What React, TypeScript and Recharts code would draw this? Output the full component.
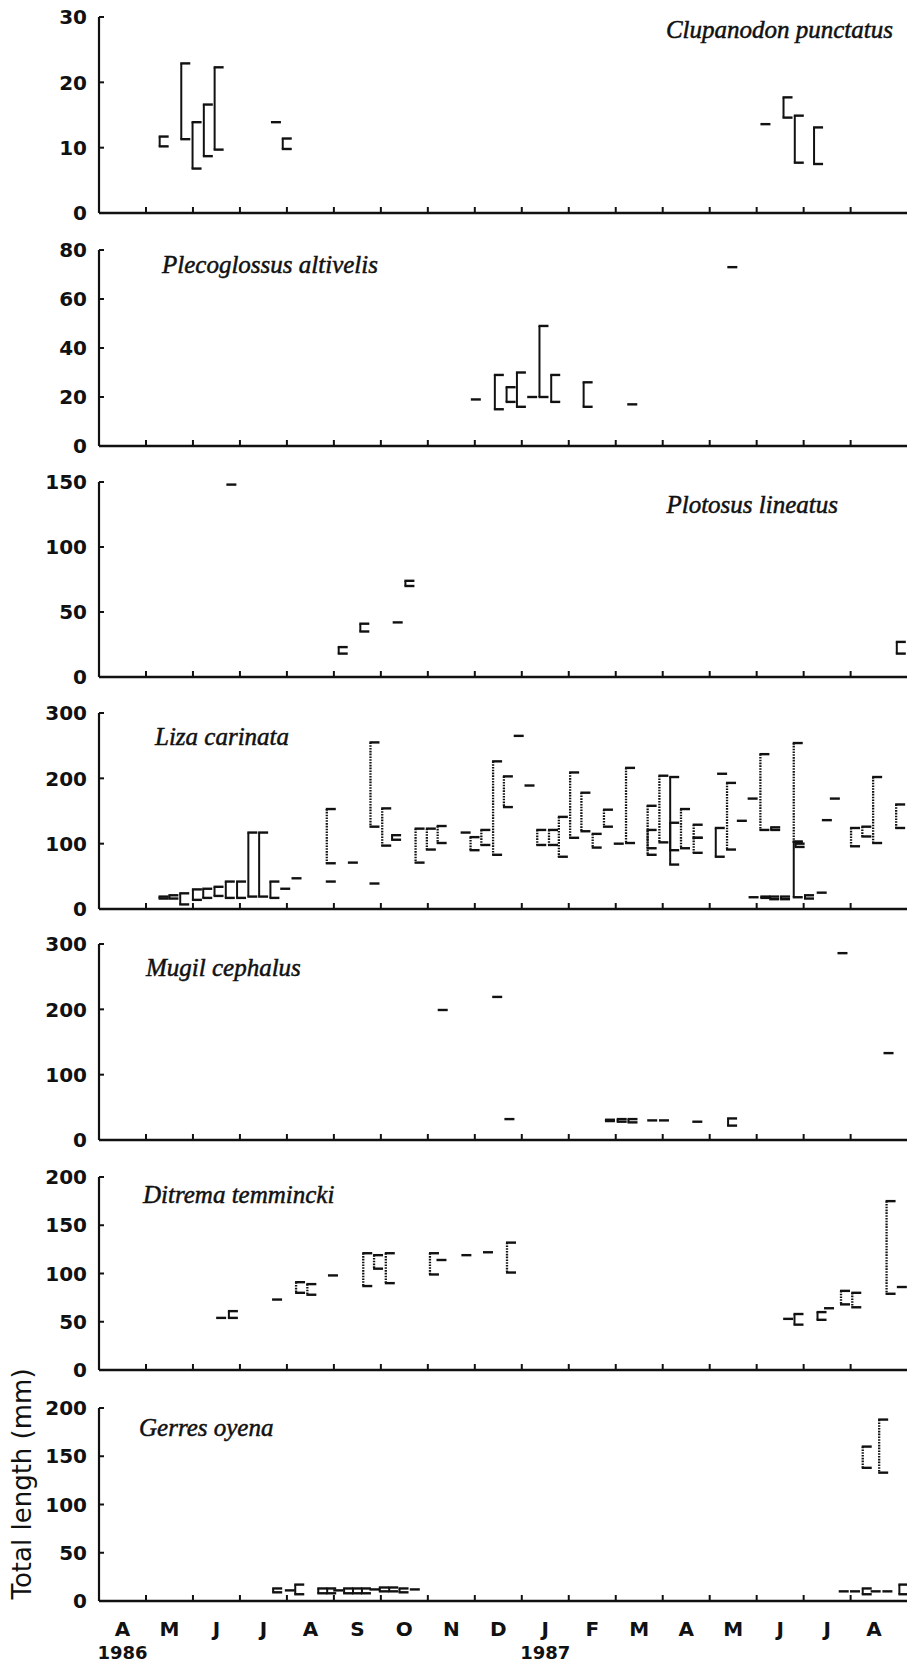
/**
 * Seasonal total length ranges of seven fish species, April 1986 – August 1987.
 * One panel per species; each sample is a "[" bracket from min to max length.
 */
import { useMemo } from 'react';
import { ComposedChart, Bar, XAxis, YAxis } from 'recharts';

// ── Axis labels ───────────────────────────────────────────────

const MONTH_LABELS = ['A', 'M', 'J', 'J', 'A', 'S', 'O', 'N', 'D', 'J', 'F', 'M', 'A', 'M', 'J', 'J', 'A'];
const YEAR_LABELS = ['1986', '', '', '', '', '', '', '', '', '1987', '', '', '', '', '', '', ''];
const MONTH_TICKS = [0, 1, 2, 3, 4, 5, 6, 7, 8, 9, 10, 11, 12, 13, 14, 15, 16];
const LABEL_TICKS = [0.5, 1.5, 2.5, 3.5, 4.5, 5.5, 6.5, 7.5, 8.5, 9.5, 10.5, 11.5, 12.5, 13.5, 14.5, 15.5, 16.5];

// ── Data: [month (0 = 1 Apr 1986), min mm, max mm] ─────────────

const CLUPANODON: number[][] = [
    [1.30, 10.2, 11.7], [1.76, 11.3, 22.9], [2.00, 6.8, 13.9], [2.24, 8.7, 16.6], [2.47, 9.7, 22.3],
    [3.69, 13.9, 13.9], [3.92, 9.8, 11.4],
    [14.11, 13.6, 13.6], [14.58, 14.6, 17.7], [14.82, 7.7, 14.9], [15.23, 7.5, 13.1],
];

const PLECOGLOSSUS: number[][] = [
    [7.94, 19, 19], [8.43, 15, 29], [8.68, 18, 24], [8.90, 16, 30], [9.14, 20, 20],
    [9.38, 20, 49], [9.63, 18, 29], [10.32, 16, 26], [11.27, 17, 17], [13.40, 73, 73],
];

const PLOTOSUS: number[][] = [
    [2.73, 148, 148], [5.10, 18, 23], [5.56, 35, 41], [6.27, 42, 42], [6.52, 70, 74], [16.98, 18, 27],
];

const LIZA_SOLID: number[][] = [
    [1.29, 16, 19], [1.50, 16, 21], [1.73, 7, 24], [2.00, 14, 30], [2.22, 17, 31], [2.46, 20, 34],
    [2.70, 17, 42], [2.94, 17, 42], [3.18, 19, 117], [3.41, 19, 117], [3.65, 17, 42], [3.88, 31, 31],
    [4.12, 47, 47], [4.85, 42, 42], [5.32, 71, 71], [5.78, 39, 39], [6.24, 106, 113], [7.72, 117, 117],
    [8.85, 265, 265], [9.08, 189, 189], [10.98, 100, 100], [12.16, 90, 202], [12.16, 68, 132],
    [13.13, 80, 124], [13.18, 207, 207], [13.60, 135, 135], [13.83, 169, 169], [13.85, 18, 18],
    [14.10, 17, 19], [14.29, 15, 19], [14.31, 121, 125], [14.52, 15, 19], [14.79, 18, 103],
    [14.83, 95, 100], [15.03, 16, 21], [15.30, 25, 25], [15.41, 136, 136], [15.58, 169, 169],
];

const LIZA_DOTTED: number[][] = [
    [4.85, 70, 153], [5.78, 126, 255], [6.03, 97, 154], [6.74, 71, 123], [6.98, 91, 123], [7.21, 101, 127],
    [7.91, 90, 110], [8.14, 98, 121], [8.39, 83, 226], [8.62, 156, 203], [9.33, 98, 121], [9.58, 98, 121],
    [9.79, 80, 141], [10.03, 109, 209], [10.27, 119, 178], [10.51, 94, 115], [10.75, 126, 152],
    [11.22, 101, 216], [11.68, 93, 158], [11.68, 83, 121], [11.93, 102, 204], [12.39, 93, 153],
    [12.66, 109, 129], [12.66, 86, 109], [13.37, 91, 193], [14.08, 121, 237], [14.79, 103, 254],
    [16.01, 96, 124], [16.25, 111, 126], [16.48, 101, 202], [16.97, 124, 160],
];

const MUGIL: number[][] = [
    [7.24, 199, 199], [8.40, 219, 219], [8.66, 32, 32], [10.80, 29, 31], [11.05, 28, 32], [11.28, 27, 32],
    [11.70, 30, 30], [11.95, 30, 30], [12.66, 28, 28], [13.40, 22, 33], [15.75, 286, 286], [16.73, 133, 133],
];

const DITREMA_SOLID: number[][] = [
    [2.51, 54, 54], [2.76, 54, 61], [3.70, 73, 73], [4.89, 98, 98], [7.20, 114, 114], [7.73, 119, 119],
    [8.19, 122, 122], [14.58, 53, 53], [14.80, 47, 58], [15.29, 52, 60], [15.45, 64, 64], [17.00, 86, 86],
];

const DITREMA_DOTTED: number[][] = [
    [4.19, 80, 91], [4.43, 78, 89], [5.62, 87, 121], [5.85, 105, 119], [6.10, 90, 121], [7.04, 99, 121],
    [8.68, 101, 132], [15.79, 68, 82], [16.03, 65, 80], [16.76, 79, 175],
];

const GERRES_SOLID: number[][] = [
    [3.71, 9, 13], [3.98, 11, 11], [4.18, 7, 17], [4.67, 8, 13], [4.86, 8, 13], [5.01, 11, 11],
    [5.22, 8, 13], [5.41, 8, 13], [5.60, 8, 13], [5.78, 12, 12], [5.98, 10, 14], [6.18, 10, 14],
    [6.40, 9, 13], [6.64, 12, 12], [15.77, 10, 10], [16.01, 10, 10], [16.26, 7, 13], [16.45, 10, 10],
    [16.70, 10, 10], [17.04, 7, 17],
];

const GERRES_DOTTED: number[][] = [
    [16.26, 138, 160], [16.61, 133, 188],
];

const TICKS_30 = [0, 10, 20, 30];
const TICKS_80 = [0, 20, 40, 60, 80];
const TICKS_150 = [0, 50, 100, 150];
const TICKS_300 = [0, 100, 200, 300];
const TICKS_200 = [0, 50, 100, 150, 200];

// ── Layout ────────────────────────────────────────────────────

const W = 907;
const MT = 14;      // room above each plot for the "30"/"80" labels
const XAXIS_H = 12; // room below each plot for the "0" label
const LABEL_H = 66; // month + year rows under the last panel
const TICK = 9;
const X_DOMAIN = [0, 17.2];

const NUM_FONT: React.CSSProperties = {
    fontFamily: '"DejaVu Sans", sans-serif',
    fontWeight: 700,
    fontSize: 20,
    fill: '#111',
};

const MONTH_FONT: React.CSSProperties = {
    fontFamily: '"Liberation Sans Narrow", "DejaVu Sans", sans-serif',
    fontWeight: 700,
    fontSize: 20,
    fill: '#111',
};

const TITLE_FONT: React.CSSProperties = {
    fontFamily: '"Liberation Serif", "DejaVu Serif", serif',
    fontStyle: 'italic',
    fontSize: 25,
    fill: '#111',
    stroke: '#111',
    strokeWidth: 0.5,
};

const PANELS = [
    { name: 'Clupanodon punctatus', solid: CLUPANODON, dotted: [], ticks: TICKS_30, top: 17, h: 196, tx: 893, ty: 38, anchor: 'end' },
    { name: 'Plecoglossus altivelis', solid: PLECOGLOSSUS, dotted: [], ticks: TICKS_80, top: 250, h: 196, tx: 162, ty: 273, anchor: 'start' },
    { name: 'Plotosus lineatus', solid: PLOTOSUS, dotted: [], ticks: TICKS_150, top: 482, h: 195, tx: 838, ty: 513, anchor: 'end' },
    { name: 'Liza carinata', solid: LIZA_SOLID, dotted: LIZA_DOTTED, ticks: TICKS_300, top: 713, h: 196, tx: 155, ty: 745, anchor: 'start' },
    { name: 'Mugil cephalus', solid: MUGIL, dotted: [], ticks: TICKS_300, top: 944, h: 196, tx: 146, ty: 976, anchor: 'start' },
    { name: 'Ditrema temmincki', solid: DITREMA_SOLID, dotted: DITREMA_DOTTED, ticks: TICKS_200, top: 1177, h: 193, tx: 143, ty: 1203, anchor: 'start' },
    { name: 'Gerres oyena', solid: GERRES_SOLID, dotted: GERRES_DOTTED, ticks: TICKS_200, top: 1408, h: 193, tx: 139, ty: 1436, anchor: 'start' },
];

// ── Marks & ticks ─────────────────────────────────────────────

function Bracket(props: any) {
    const { x, y, width, height, payload } = props;
    if (x == null || y == null) return null;
    const cx = x + (width || 0) / 2;
    const top = Math.min(y, y + (height || 0));
    const bot = Math.max(y, y + (height || 0));
    const dotted = payload?.dotted;
    const hasSpan = bot - top > 0.5;
    return (
        <g stroke="#111" fill="none">
            {hasSpan && (
                <line x1={cx} y1={top} x2={cx} y2={bot}
                    strokeWidth={dotted ? 2.3 : 2}
                    strokeDasharray={dotted ? '1.6 1.2' : undefined} />
            )}
            <line x1={cx - 1} y1={top} x2={cx + TICK} y2={top} strokeWidth={2.4} />
            {hasSpan && <line x1={cx - 1} y1={bot} x2={cx + TICK} y2={bot} strokeWidth={2.4} />}
        </g>
    );
}

// integer ticks = month boundaries (inward marks); half ticks = month / year labels
function MonthTick({ x, y, payload }: any) {
    if (!payload) return null;
    const v = payload.value;
    if (Number.isInteger(v)) {
        if (v === 0) return null;
        return <line x1={x} y1={y - 1} x2={x} y2={y - 6} stroke="#111" strokeWidth={2} />;
    }
    const i = Math.floor(v);
    return (
        <g>
            <text x={x} y={y + 35} textAnchor="middle" style={MONTH_FONT}>{MONTH_LABELS[i]}</text>
            {YEAR_LABELS[i] && (
                <text x={x} y={y + 58} textAnchor="middle" style={{ ...NUM_FONT, fontSize: 18 }}>{YEAR_LABELS[i]}</text>
            )}
        </g>
    );
}

function ValueTick({ x, y, payload }: any) {
    return (
        <g>
            {payload.value !== 0 && <line x1={x} y1={y} x2={x + 5} y2={y} stroke="#111" strokeWidth={2} />}
            <text x={x - 12} y={y} dy="0.36em" textAnchor="end" style={NUM_FONT}>{payload.value}</text>
        </g>
    );
}

// ── Panel ─────────────────────────────────────────────────────

function Panel({ p, last }: { p: typeof PANELS[number]; last: boolean }) {
    const data = useMemo(() => [
        ...p.solid.map(([m, lo, hi]) => ({ m, range: [lo, hi], dotted: false })),
        ...p.dotted.map(([m, lo, hi]) => ({ m, range: [lo, hi], dotted: true })),
    ], [p]);
    const axisH = last ? LABEL_H : XAXIS_H;
    const xTicks = last ? [...MONTH_TICKS, ...LABEL_TICKS] : MONTH_TICKS;

    return (
        <div style={{ position: 'absolute', left: 0, top: p.top - MT }}>
            <ComposedChart width={W} height={MT + p.h + axisH} data={data} margin={{ top: MT, right: 0, bottom: 0, left: 0 }}>
                <XAxis dataKey="m" type="number" domain={X_DOMAIN} ticks={xTicks} interval={0}
                    allowDataOverflow height={axisH} tickSize={0} tickMargin={0} tickLine={false}
                    axisLine={{ stroke: '#111', strokeWidth: 2.6 }} tick={(t: any) => <MonthTick {...t} />} />
                <YAxis type="number" domain={[0, p.ticks[p.ticks.length - 1]]} ticks={p.ticks} interval={0}
                    width={99} tickSize={0} tickMargin={0} tickLine={false}
                    axisLine={{ stroke: '#111', strokeWidth: 2.2 }} tick={(t: any) => <ValueTick {...t} />} />
                <Bar dataKey="range" barSize={2} isAnimationActive={false} shape={(s: any) => <Bracket {...s} />} />
            </ComposedChart>
        </div>
    );
}

// ── App ───────────────────────────────────────────────────────

export default function App() {
    return (
        <div style={{ position: 'absolute', left: 0, top: 0, width: W, height: 1666, background: '#fff', overflow: 'hidden' }}>
            {PANELS.map((p, i) => <Panel key={p.name} p={p} last={i === PANELS.length - 1} />)}
            <svg width={W} height={1666} style={{ position: 'absolute', left: 0, top: 0, pointerEvents: 'none' }}>
                {PANELS.map(p => (
                    <text key={p.name} x={p.tx} y={p.ty} textAnchor={p.anchor as any} style={TITLE_FONT}>{p.name}</text>
                ))}
                <text transform="translate(31, 1484) rotate(-90)" textAnchor="middle"
                    style={{ fontFamily: '"DejaVu Sans", sans-serif', fontSize: 26, fill: '#111' }}>
                    Total length (mm)
                </text>
            </svg>
        </div>
    );
}
